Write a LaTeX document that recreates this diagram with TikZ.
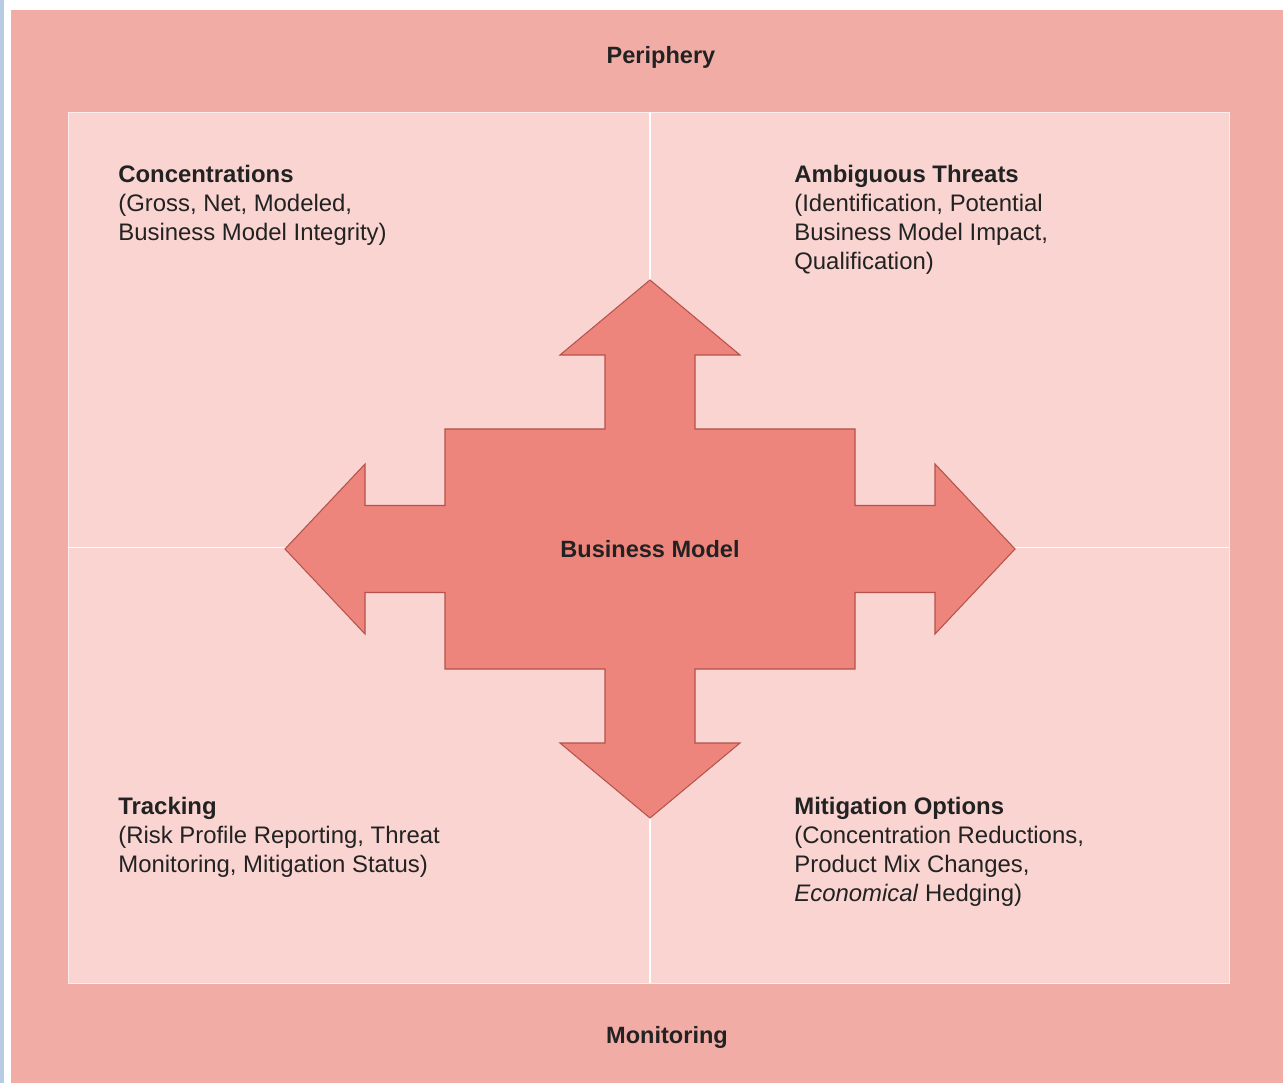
\documentclass[tikz,border=0pt]{standalone}
\usepackage{fontspec}
\setmainfont{Liberation Sans}
\usepackage{xcolor}
\usetikzlibrary{positioning}

\definecolor{pageblue}{HTML}{B7CBE5}
\definecolor{rimpink}{HTML}{F2ACA6}
\definecolor{panelpink}{HTML}{F9D4D1}
\definecolor{crossfill}{HTML}{EE857C}
\definecolor{crossline}{HTML}{B5524B}
\definecolor{labelgrey}{HTML}{222222}

\begin{document}
\begin{tikzpicture}[
    quadtext/.style = {anchor=north west, inner sep=0pt, align=left, text=labelgrey, font=\fontsize{13.6}{16.5}\selectfont},
    bandtext/.style = {inner sep=0pt, text=labelgrey, font=\fontsize{13.4}{16}\selectfont\bfseries},
    divider/.style = {draw=white, line width=0.9pt}
]
\useasboundingbox (0,0) rectangle (25.66,-21.66);

% Page edge, outer band and inner panel
\fill[pageblue] (0,0) rectangle (0.08,-21.66);
\node (rim) [rectangle, fill=rimpink, inner sep=0pt, minimum width=25.44cm, minimum height=21.46cm] at (12.94,-10.93) {};
\node (panel) [rectangle, fill=panelpink, draw=white!55!panelpink, inner sep=0pt, minimum width=23.22cm, minimum height=17.42cm] at (12.97,-10.95) {};

% Quadrant dividers
\draw [divider] ([xshift=1pt]panel.north) -- ([xshift=1pt]panel.south);
\draw [divider] (panel.west) -- (panel.east);

% Four-way arrow round the core
\begin{scope}[shift={(13.0,-10.98)}]
\draw [fill=crossfill, draw=crossline, line width=0.6pt, line join=miter]
    (-4.1,2.4) -- (-0.9,2.4) -- (-0.9,3.88) -- (-1.8,3.88) -- (0,5.38) -- (1.8,3.88) -- (0.9,3.88) -- (0.9,2.4)
    -- (4.1,2.4) -- (4.1,0.87) -- (5.7,0.87) -- (5.7,1.7) -- (7.3,0) -- (5.7,-1.7) -- (5.7,-0.87) -- (4.1,-0.87)
    -- (4.1,-2.4) -- (0.9,-2.4) -- (0.9,-3.88) -- (1.8,-3.88) -- (0,-5.38) -- (-1.8,-3.88) -- (-0.9,-3.88) -- (-0.9,-2.4)
    -- (-4.1,-2.4) -- (-4.1,-0.87) -- (-5.7,-0.87) -- (-5.7,-1.7) -- (-7.3,0) -- (-5.7,1.7) -- (-5.7,0.87) -- (-4.1,0.87)
    -- cycle;
\node (core) [bandtext] at (0,0) {Business Model};
\end{scope}

% Band labels
\node (periphery) [bandtext] at (13.22,-1.14) {Periphery};
\node (monitoring) [bandtext] at (13.34,-20.74) {Monitoring};

% Quadrant texts
\node (concentr) [quadtext] at (2.36,-3.3) {\textbf{Concentrations}\\(Gross, Net, Modeled,\\Business Model Integrity)};
\node (threats) [quadtext] at (15.88,-3.3) {\textbf{Ambiguous Threats}\\(Identification, Potential\\Business Model Impact,\\Qualification)};
\node (tracking) [quadtext] at (2.36,-15.93) {\textbf{Tracking}\\(Risk Profile Reporting, Threat\\Monitoring, Mitigation Status)};
\node (mitigation) [quadtext] at (15.88,-15.93) {\textbf{Mitigation Options}\\(Concentration Reductions,\\Product Mix Changes,\\\textit{Economical} Hedging)};

\end{tikzpicture}
\end{document}
